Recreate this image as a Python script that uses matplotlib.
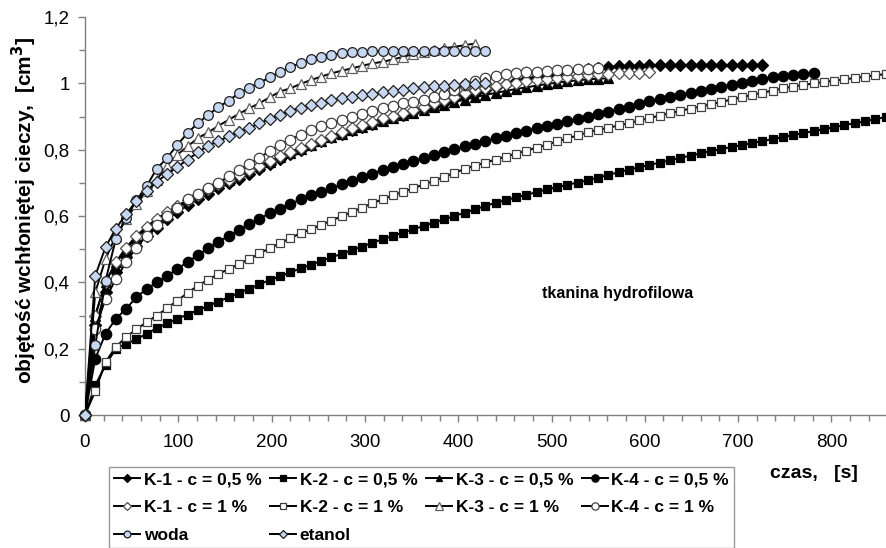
import numpy as np
import matplotlib
matplotlib.use("Agg")
import matplotlib.pyplot as plt
from matplotlib.ticker import MultipleLocator, FuncFormatter

plt.rcParams['font.family'] = ['Liberation Sans', 'DejaVu Sans']

# sampling step of the measurements [s]
dt = 11

k1_05 = [0, 0.27, 0.37, 0.43, 0.475, 0.51, 0.54, 0.565, 0.59, 0.612, 0.632, 0.65, 0.667, 0.683,
         0.698, 0.713, 0.728, 0.743, 0.758, 0.772, 0.786, 0.8, 0.813, 0.825, 0.837, 0.848, 0.858,
         0.868, 0.878, 0.888, 0.897, 0.906, 0.915, 0.924, 0.933, 0.942, 0.952, 0.962, 0.972, 0.981,
         0.99, 0.998, 1.006, 1.013, 1.02, 1.026, 1.031, 1.036, 1.04, 1.043, 1.046, 1.049, 1.051,
         1.052, 1.053, 1.054, 1.054, 1.054, 1.055, 1.055, 1.055, 1.055, 1.055, 1.055, 1.055, 1.055, 1.055]
k2_05 = [0, 0.09, 0.15, 0.2, 0.215, 0.228, 0.245, 0.262, 0.276, 0.29, 0.303, 0.316, 0.329, 0.342,
         0.355, 0.368, 0.381, 0.394, 0.407, 0.418, 0.43, 0.442, 0.453, 0.464, 0.475, 0.486, 0.497,
         0.508, 0.519, 0.53, 0.54, 0.55, 0.56, 0.57, 0.58, 0.59, 0.6, 0.61, 0.62, 0.63, 0.64, 0.648,
         0.656, 0.664, 0.672, 0.68, 0.687, 0.694, 0.701, 0.708, 0.716, 0.724, 0.732, 0.74, 0.747,
         0.754, 0.761, 0.768, 0.775, 0.782, 0.789, 0.796, 0.802, 0.808, 0.814, 0.82, 0.826, 0.832,
         0.838, 0.844, 0.85, 0.856, 0.862, 0.868, 0.874, 0.88, 0.886, 0.892, 0.898, 0.904]
k3_05 = [0, 0.3, 0.4, 0.46, 0.5, 0.535, 0.563, 0.588, 0.61, 0.63, 0.648, 0.665, 0.68, 0.695, 0.71,
         0.724, 0.738, 0.751, 0.764, 0.777, 0.79, 0.802, 0.814, 0.826, 0.837, 0.848, 0.858, 0.868,
         0.877, 0.886, 0.895, 0.904, 0.912, 0.92, 0.928, 0.936, 0.944, 0.951, 0.958, 0.965, 0.971,
         0.977, 0.983, 0.988, 0.993, 0.998, 1.002, 1.006, 1.009, 1.012, 1.014, 1.015]
k4_05 = [0, 0.17, 0.245, 0.29, 0.32, 0.355, 0.38, 0.4, 0.42, 0.44, 0.462, 0.482, 0.503, 0.522,
         0.54, 0.558, 0.575, 0.592, 0.608, 0.622, 0.636, 0.65, 0.662, 0.673, 0.684, 0.695, 0.706,
         0.717, 0.728, 0.738, 0.748, 0.757, 0.766, 0.775, 0.784, 0.793, 0.802, 0.81, 0.818, 0.826,
         0.834, 0.842, 0.85, 0.857, 0.864, 0.871, 0.878, 0.885, 0.892, 0.9, 0.907, 0.915, 0.922,
         0.93, 0.938, 0.946, 0.953, 0.96, 0.966, 0.972, 0.978, 0.984, 0.99, 0.996, 1.002, 1.008,
         1.013, 1.018, 1.022, 1.025, 1.028, 1.03]
k1_1 = [0, 0.3, 0.4, 0.46, 0.505, 0.54, 0.568, 0.592, 0.612, 0.63, 0.648, 0.664, 0.68, 0.695,
        0.71, 0.724, 0.738, 0.752, 0.766, 0.78, 0.793, 0.806, 0.818, 0.83, 0.842, 0.853, 0.864,
        0.874, 0.884, 0.894, 0.903, 0.912, 0.921, 0.93, 0.94, 0.95, 0.96, 0.97, 0.98, 0.987, 0.993,
        0.998, 1.002, 1.006, 1.01, 1.013, 1.016, 1.019, 1.022, 1.025, 1.027, 1.029, 1.03, 1.031,
        1.032, 1.033]
k2_1 = [0, 0.072, 0.16, 0.205, 0.235, 0.258, 0.28, 0.3, 0.322, 0.345, 0.368, 0.39, 0.408, 0.425,
        0.44, 0.455, 0.47, 0.487, 0.503, 0.518, 0.533, 0.548, 0.56, 0.573, 0.586, 0.599, 0.612,
        0.625, 0.638, 0.651, 0.662, 0.673, 0.684, 0.695, 0.706, 0.718, 0.73, 0.742, 0.752, 0.761,
        0.77, 0.779, 0.788, 0.797, 0.806, 0.815, 0.825, 0.834, 0.843, 0.852, 0.86, 0.866, 0.873,
        0.88, 0.888, 0.895, 0.903, 0.91, 0.917, 0.924, 0.93, 0.937, 0.944, 0.951, 0.958, 0.965,
        0.972, 0.978, 0.985, 0.99, 0.995, 1.0, 1.004, 1.008, 1.012, 1.016, 1.02, 1.024, 1.028, 1.032]
k3_1 = [0, 0.37, 0.47, 0.54, 0.59, 0.635, 0.675, 0.71, 0.752, 0.785, 0.81, 0.835, 0.852, 0.872,
        0.89, 0.908, 0.925, 0.94, 0.958, 0.975, 0.985, 0.998, 1.01, 1.02, 1.03, 1.038, 1.045,
        1.053, 1.06, 1.065, 1.072, 1.08, 1.088, 1.095, 1.1, 1.106, 1.11, 1.115, 1.12]
k4_1 = [0, 0.26, 0.35, 0.41, 0.46, 0.505, 0.54, 0.572, 0.6, 0.625, 0.65, 0.667, 0.685, 0.7,
        0.72, 0.738, 0.757, 0.776, 0.796, 0.815, 0.83, 0.845, 0.858, 0.87, 0.88, 0.89, 0.9, 0.908,
        0.916, 0.925, 0.933, 0.94, 0.945, 0.95, 0.958, 0.968, 0.98, 0.995, 1.008, 1.016, 1.023,
        1.027, 1.03, 1.033, 1.035, 1.037, 1.039, 1.041, 1.043, 1.044, 1.045]
woda = [0, 0.21, 0.405, 0.53, 0.595, 0.647, 0.69, 0.743, 0.775, 0.815, 0.85, 0.88, 0.905, 0.928,
        0.948, 0.97, 0.987, 1.002, 1.018, 1.035, 1.048, 1.062, 1.073, 1.08, 1.086, 1.09, 1.093,
        1.095, 1.097, 1.098, 1.098, 1.098, 1.098, 1.098, 1.098, 1.097, 1.097, 1.096, 1.096, 1.096]
etanol = [0, 0.42, 0.506, 0.562, 0.605, 0.645, 0.676, 0.703, 0.727, 0.748, 0.77, 0.792, 0.812,
          0.826, 0.84, 0.853, 0.866, 0.879, 0.893, 0.905, 0.917, 0.926, 0.934, 0.942, 0.949, 0.955,
          0.96, 0.965, 0.969, 0.973, 0.977, 0.981, 0.985, 0.988, 0.991, 0.993, 0.995, 0.997, 0.998, 1.0]

labels = ['K-1 - c = 0,5 %', 'K-2 - c = 0,5 %', 'K-3 - c = 0,5 %', 'K-4 - c = 0,5 %',
          'K-1 - c = 1 %', 'K-2 - c = 1 %', 'K-3 - c = 1 %', 'K-4 - c = 1 %',
          'woda', 'etanol']

blue = '#c6d7ef'
styles = [
    dict(marker='D', ms=6.5, mfc='black', mec='black'),
    dict(marker='s', ms=6.0, mfc='black', mec='black'),
    dict(marker='^', ms=7.0, mfc='black', mec='black'),
    dict(marker='o', ms=7.5, mfc='black', mec='black'),
    dict(marker='D', ms=6.5, mfc='white', mec='#505050'),
    dict(marker='s', ms=6.0, mfc='white', mec='#404040'),
    dict(marker='^', ms=7.5, mfc='white', mec='#606060'),
    dict(marker='o', ms=7.5, mfc='white', mec='#404040'),
    dict(marker='o', ms=7.0, mfc=blue, mec='#202020'),
    dict(marker='D', ms=6.5, mfc=blue, mec='#202020'),
]
series = [k1_05, k2_05, k3_05, k4_05, k1_1, k2_1, k3_1, k4_1, woda, etanol]

W, H = 886, 548
fig = plt.figure(figsize=(W / 100, H / 100), dpi=100)
x0, x1 = 85, 886
y0, y1 = 415, 17
ax = fig.add_axes([x0 / W, 1 - y0 / H, (x1 - x0) / W, (y0 - y1) / H])

handles = []
for i, (vals, st) in enumerate(zip(series, styles)):
    t = np.arange(len(vals)) * dt
    h, = ax.plot(t, vals, color='black', lw=1.4, marker=st['marker'], ms=st['ms'],
                 mfc=st['mfc'], mec=st['mec'], mew=0.9, zorder=3 + i, clip_on=True)
    handles.append(h)
# make the origin markers visible over the axes
for i, (vals, st) in enumerate(zip(series, styles)):
    ax.plot([0], [vals[0]], ls='none', marker=st['marker'], ms=st['ms'], mfc=st['mfc'],
            mec=st['mec'], mew=0.9, zorder=3 + i, clip_on=False)

ax.set_xlim(0, (x1 - x0) / 0.933)
ax.set_ylim(0, 1.2)
for s in ['top', 'right']:
    ax.spines[s].set_visible(False)
for s in ['left', 'bottom']:
    ax.spines[s].set_color('#808080')
    ax.spines[s].set_linewidth(1.0)

ax.xaxis.set_major_locator(MultipleLocator(100))
ax.xaxis.set_minor_locator(MultipleLocator(20))
ax.yaxis.set_major_locator(MultipleLocator(0.2))
ax.yaxis.set_minor_locator(MultipleLocator(0.1))
ax.yaxis.set_major_formatter(FuncFormatter(lambda v, p: ('%g' % round(v, 1)).replace('.', ',')))
ax.tick_params(which='major', direction='out', length=5, width=1, color='#808080',
               labelsize=13.5)
ax.tick_params(which='minor', direction='out', length=4, width=1, color='#808080')
ax.tick_params(axis='x', which='major', pad=9)
ax.tick_params(axis='y', which='major', pad=6)

fig.text(24 / W, 1 - 210 / H, 'objętość wchłoniętej cieczy,  [cm$^{\\mathbf{3}}$]',
         fontsize=15, fontweight='bold', rotation=90, ha='center', va='center')

ax.text(490, 0.367, 'tkanina hydrofilowa', fontsize=11.5, fontweight='bold',
        ha='left', va='center')
fig.text(770 / W, 1 - 473 / H, 'czas,   [s]', fontsize=14, fontweight='bold',
         ha='left', va='center')

order = [0, 4, 8, 1, 5, 9, 2, 6, 3, 7]
leg = fig.legend([handles[i] for i in order], [labels[i] for i in order], ncol=4,
                 loc='upper left', bbox_to_anchor=(109 / W, 1 - 467 / H),
                 prop=dict(weight='bold', size=12.5), frameon=True, fancybox=False,
                 edgecolor='#808080', handlelength=1.5, handletextpad=0.2,
                 columnspacing=0.5, labelspacing=0.72, borderpad=0.3, markerscale=0.7,
                 borderaxespad=0.0)
leg.get_frame().set_linewidth(1.0)

fig.savefig('out.png', dpi=100)
